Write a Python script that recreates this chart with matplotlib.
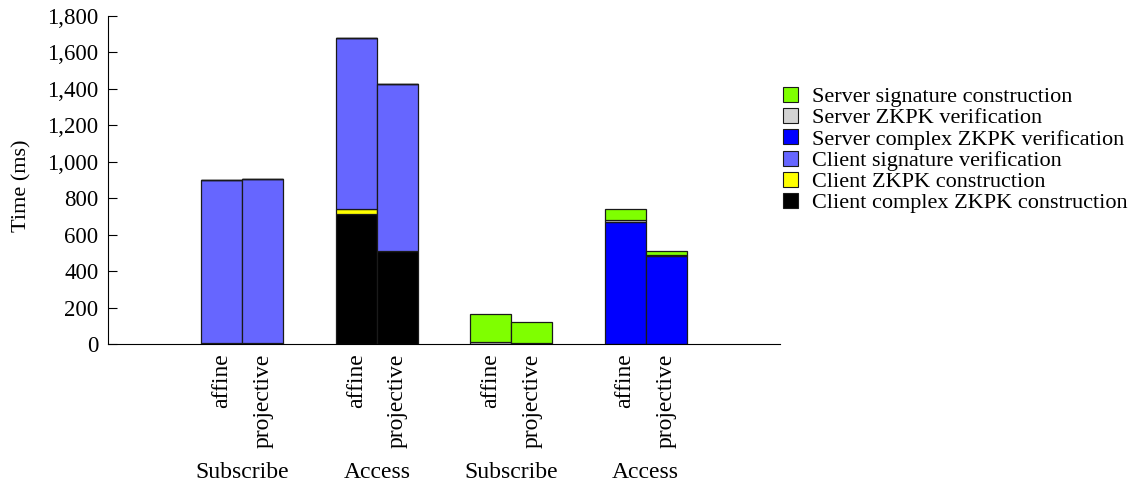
import matplotlib
matplotlib.use("Agg")
import matplotlib.pyplot as plt
from matplotlib.patches import Patch
import numpy as np

plt.rcParams["font.family"] = ["Liberation Serif", "DejaVu Serif"]

# One bar per (phase, coordinate system)
groups = ["Subscribe", "Access", "Subscribe", "Access"]
variants = ["affine", "projective"]

# Stack components in ms, one value per bar (8 bars)
client_complex_zkpk = [0, 0, 715, 508, 0, 0, 0, 0]
client_zkpk = [5, 3, 25, 4, 0, 0, 0, 0]
client_sig_verif = [892, 899, 939, 914, 0, 0, 0, 0]
server_complex_zkpk = [0, 0, 0, 0, 0, 0, 669, 482]
server_zkpk_verif = [0, 0, 0, 0, 12, 3, 13, 4]
server_sig_constr = [0, 0, 0, 0, 150, 115, 59, 26]

yticks = [0, 200, 400, 600, 800, 1000, 1200, 1400, 1600, 1800]

series = [
    ("Client complex ZKPK construction", client_complex_zkpk, "#000000"),
    ("Client ZKPK construction", client_zkpk, "#ffff00"),
    ("Client signature verification", client_sig_verif, "#6666ff"),
    ("Server complex ZKPK verification", server_complex_zkpk, "#0000ff"),
    ("Server ZKPK verification", server_zkpk_verif, "#d3d3d3"),
    ("Server signature construction", server_sig_constr, "#7fff00"),
]

fig = plt.figure(figsize=(11.30, 4.87), dpi=100)
ax = fig.add_axes([108 / 1130, 1 - 344 / 487, (780 - 108) / 1130, (344 - 15.6) / 487])

width = 0.305
centers = np.arange(1, len(groups) + 1)
xpos = []
for c in centers:
    xpos += [c - width / 2, c + width / 2]
xpos = np.array(xpos)

bottom = np.zeros(len(xpos))
for label, vals, color in series:
    v = np.array(vals, dtype=float)
    ax.bar(xpos, v, width=width, bottom=bottom, color=color,
           edgecolor="#1a1a1a", linewidth=0.9)
    bottom += v

ax.set_xlim(0, 5)
ax.set_ylim(0, 1800)
ax.set_yticks(yticks)
ax.set_yticklabels([f"{t:,}" for t in yticks], fontsize=16.5)
ax.tick_params(axis="y", direction="in", length=6.5, width=0.8, pad=7)
ax.set_xticks(xpos)
ax.set_xticklabels(variants * len(groups), rotation=90, fontsize=17,
                   va="top", ha="center")
ax.tick_params(axis="x", length=0, pad=7)
for s in ("top", "right"):
    ax.spines[s].set_visible(False)
ax.spines["left"].set_linewidth(0.8)
ax.spines["bottom"].set_linewidth(0.8)

fig.text(22 / 1130, 1 - 186 / 487, "Time (ms)", rotation=90, ha="center",
         va="center", fontsize=16)

trans = matplotlib.transforms.blended_transform_factory(ax.transData, fig.transFigure)
for c, g in zip(centers, groups):
    ax.text(c, 1 - 473 / 487, g, transform=trans, ha="center", va="center",
            fontsize=17)

handles = [Patch(facecolor=col, edgecolor="#1a1a1a", linewidth=0.8, label=lab)
           for lab, _, col in series[::-1]]
fig.legend(handles=handles, loc="upper left", bbox_to_anchor=(783 / 1130, 1 - 87 / 487),
           frameon=False, fontsize=16, handlelength=0.66, handleheight=0.66,
           handletextpad=0.66, labelspacing=0.04, borderaxespad=0, borderpad=0)

fig.savefig("out.png", dpi=100)
